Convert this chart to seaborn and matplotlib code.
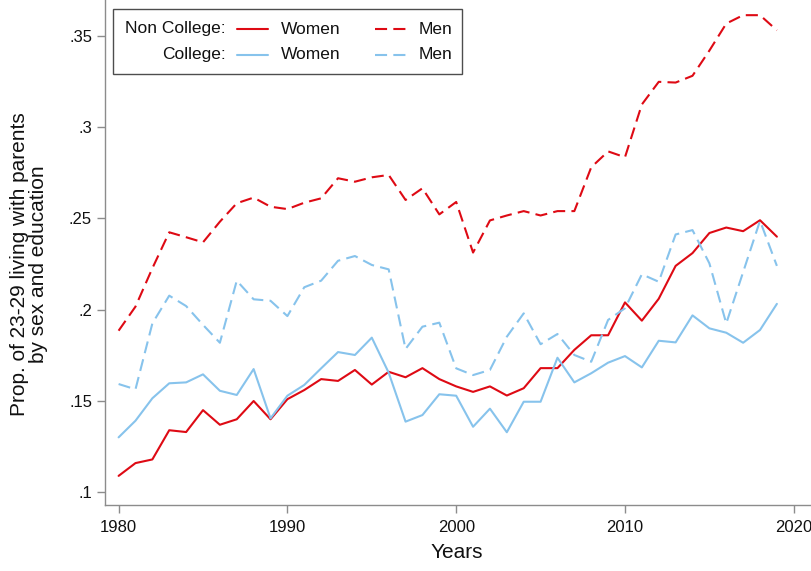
import matplotlib
matplotlib.use("Agg")
import matplotlib.pyplot as plt
from matplotlib.lines import Line2D
from matplotlib.patches import Rectangle
import numpy as np
import pandas as pd
import seaborn as sns

# ---------------- data ----------------
years = list(range(1980, 2020))

noncollege_women = [0.109, 0.116, 0.118, 0.134, 0.133, 0.145, 0.137, 0.140, 0.150, 0.140,
                    0.151, 0.156, 0.162, 0.161, 0.167, 0.159, 0.166, 0.163, 0.168, 0.162,
                    0.158, 0.155, 0.158, 0.153, 0.157, 0.168, 0.168, 0.178, 0.186, 0.186,
                    0.204, 0.194, 0.206, 0.224, 0.231, 0.242, 0.245, 0.243, 0.249, 0.240]

noncollege_men = [0.1885, 0.2017, 0.2227, 0.2424, 0.2397, 0.2369, 0.2482, 0.2583, 0.2614, 0.2564,
                  0.2551, 0.2586, 0.2610, 0.2720, 0.2701, 0.2725, 0.2738, 0.2601, 0.2665, 0.2522,
                  0.2590, 0.2313, 0.2489, 0.2516, 0.2540, 0.2516, 0.2540, 0.2540, 0.2780, 0.2867,
                  0.2835, 0.3124, 0.3248, 0.3244, 0.3281, 0.3419, 0.3567, 0.3613, 0.3613, 0.3530]

college_women = [0.1301, 0.1392, 0.1515, 0.1597, 0.1602, 0.1646, 0.1556, 0.1533, 0.1675, 0.1405,
                 0.1529, 0.1588, 0.1679, 0.1768, 0.1752, 0.1847, 0.1655, 0.1387, 0.1423, 0.1537,
                 0.1529, 0.1359, 0.1458, 0.1329, 0.1496, 0.1496, 0.1737, 0.1602, 0.1652, 0.1710,
                 0.1746, 0.1684, 0.1830, 0.1821, 0.1969, 0.1898, 0.1874, 0.1819, 0.1889, 0.2032]

college_men = [0.1593, 0.1564, 0.1925, 0.2077, 0.2020, 0.1917, 0.1819, 0.2159, 0.2057, 0.2049,
               0.1965, 0.2123, 0.2159, 0.2268, 0.2294, 0.2245, 0.2221, 0.1785, 0.1907, 0.1929,
               0.1679, 0.1642, 0.1670, 0.1852, 0.1980, 0.1811, 0.1867, 0.1752, 0.1715, 0.1944,
               0.2008, 0.2194, 0.2153, 0.2412, 0.2436, 0.2254, 0.1925, 0.2206, 0.2487, 0.2240]

x_ticks = [1980, 1990, 2000, 2010, 2020]
y_ticks = [0.10, 0.15, 0.20, 0.25, 0.30, 0.35]
y_tick_labels = [".1", ".15", ".2", ".25", ".3", ".35"]

education_levels = ["Non College", "College"]
sexes = ["Women", "Men"]

# ---------------- long-form table ----------------
frames = []
for edu, sex, vals in [("Non College", "Women", noncollege_women),
                       ("Non College", "Men", noncollege_men),
                       ("College", "Women", college_women),
                       ("College", "Men", college_men)]:
    frames.append(pd.DataFrame({"Year": years, "Value": vals,
                                "Education": edu, "Sex": sex}))
df = pd.concat(frames, ignore_index=True)

# ---------------- style ----------------
sns.set_style("white")
plt.rcParams["font.family"] = ["Liberation Sans", "DejaVu Sans"]

RED = "#DE0A14"
BLUE = "#87C3EC"
AXCOL = "#8C8C8C"
DASH = (5.8, 3.0)

W, H = 812, 571
fig = plt.figure(figsize=(W / 100, H / 100), dpi=100)
ax = fig.add_axes([105 / W, 66 / H, 707 / W, 505 / H])

sns.lineplot(data=df, x="Year", y="Value", hue="Education", style="Sex",
             hue_order=education_levels, style_order=sexes,
             palette={"Non College": RED, "College": BLUE},
             dashes={"Women": "", "Men": DASH},
             linewidth=1.5, legend=False, ax=ax, estimator=None)

ax.set_xlim(1979.194, 2021.08)
ax.set_ylim(0.09305, 0.36961)
ax.set_xticks(x_ticks)
ax.set_yticks(y_ticks)
ax.set_yticklabels(y_tick_labels)

for s in ["top", "right"]:
    ax.spines[s].set_visible(False)
for s in ["left", "bottom"]:
    ax.spines[s].set_color(AXCOL)
    ax.spines[s].set_linewidth(1.0)

ax.tick_params(axis="both", which="major", direction="out", length=5.8,
               width=1.0, color=AXCOL, labelsize=12, labelcolor="#111111")
ax.tick_params(axis="x", pad=5)
ax.tick_params(axis="y", pad=3.5)
ax.tick_params(left=True, bottom=True)

ax.set_xlabel("Years", fontsize=15, color="#111111")
ax.set_ylabel("Prop. of 23-29 living with parents\nby sex and education",
              fontsize=15, color="#111111", linespacing=0.95)
ax.yaxis.label.set_va("center")
ax.yaxis.set_label_coords((29 - 105) / 707, (505 - 264.5) / 505)
ax.xaxis.label.set_va("top")
ax.xaxis.set_label_coords((457 - 105) / 707, (505 - 543) / 505)

# ---------------- custom legend box ----------------
def fx(px):
    return px / W

def fy(py):
    return 1 - py / H

box = Rectangle((fx(113), fy(73.5)), fx(462) - fx(113), fy(9) - fy(73.5),
                transform=fig.transFigure, facecolor="white",
                edgecolor="#4D4D4D", linewidth=1.0, zorder=5)
fig.add_artist(box)

rows = [("Non College:", RED, 29), ("College:", BLUE, 54.5)]
for label, col, py in rows:
    fig.text(fx(226), fy(py), label, ha="right", va="center",
             fontsize=12.5, color="#111111", zorder=6)
    fig.add_artist(Line2D([fx(237), fx(268)], [fy(py), fy(py)],
                          transform=fig.transFigure, color=col,
                          linewidth=1.5, zorder=6))
    fig.text(fx(281), fy(py), "Women", ha="left", va="center",
             fontsize=12.5, color="#111111", zorder=6)
    fig.add_artist(Line2D([fx(375), fx(406)], [fy(py), fy(py)],
                          transform=fig.transFigure, color=col,
                          linewidth=1.5, dashes=DASH, zorder=6))
    fig.text(fx(419), fy(py), "Men", ha="left", va="center",
             fontsize=12.5, color="#111111", zorder=6)

fig.savefig("out.png", dpi=100, facecolor="white")
